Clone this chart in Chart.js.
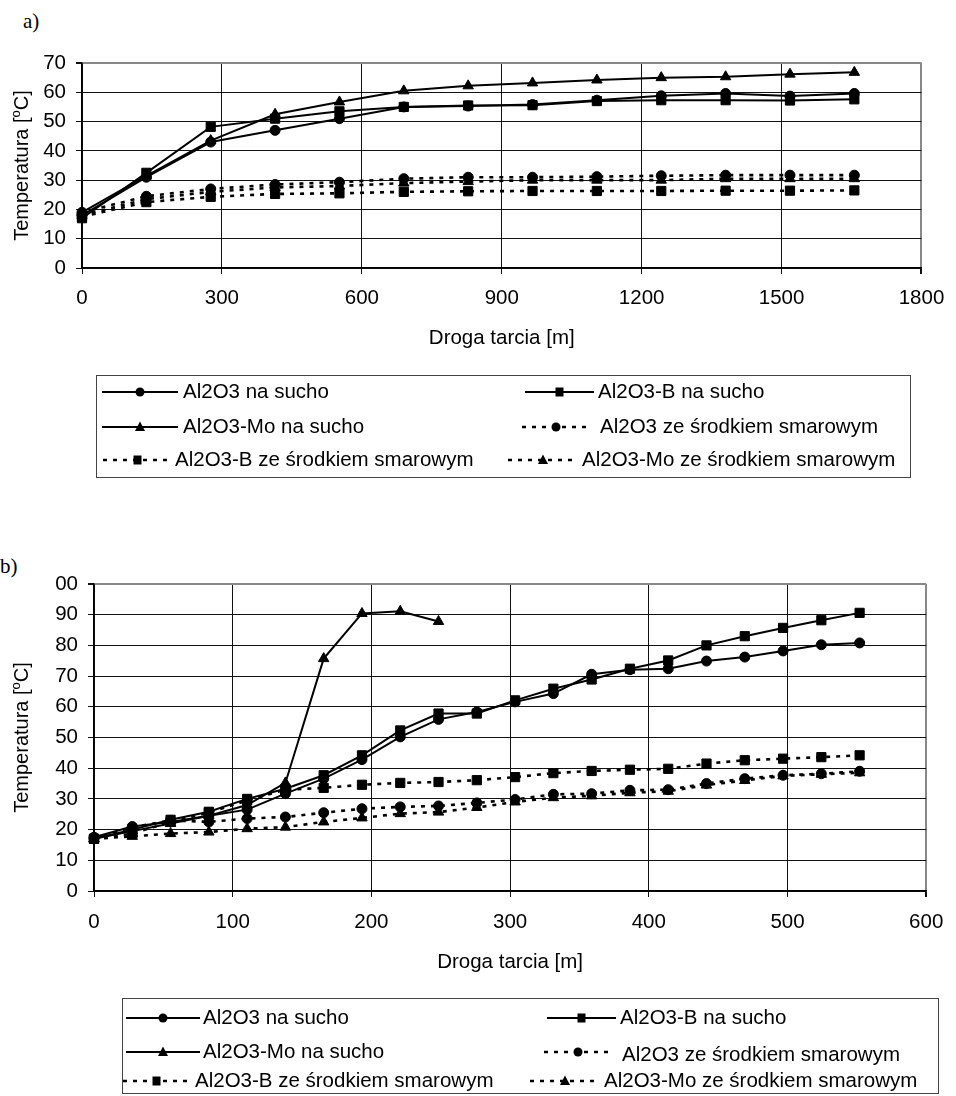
<!DOCTYPE html>
<html>
<head>
<meta charset="utf-8">
<script src="https://cdn.jsdelivr.net/npm/chart.js@4.4.1/dist/chart.umd.min.js"></script>
<style>
  body { margin: 0; background: #fff; width: 956px; height: 1096px; position: relative; overflow: hidden; }
  canvas { position: absolute; left: 0; }
  .lbl { position: absolute; font: 21px 'Liberation Serif', 'Times New Roman', serif; line-height: 21px; color: #000; }
</style>
</head>
<body>
<div class="lbl" style="left:23px; top:11px">a)</div>
<div class="lbl" style="left:0px; top:556px">b)</div>
<canvas id="chartA" width="956" height="490" style="top:0"></canvas>
<canvas id="chartB" width="956" height="606" style="top:490px"></canvas>
<script>
// --- data: chart a) ---
const distA = [0, 138, 276, 414, 552, 690, 828, 966, 1104, 1242, 1380, 1518, 1656];
const aAl2o3Dry = [18, 31, 43, 47, 51, 55, 55.3, 55.8, 57.3, 58.8, 59.6, 58.7, 59.6];
const aBDry     = [17, 32.5, 48.2, 51, 53.5, 55, 55.5, 55.6, 57, 57.3, 57.3, 57.2, 57.6];
const aMoDry    = [19, 31.5, 43.5, 52.5, 56.7, 60.5, 62.2, 63.2, 64.2, 65, 65.3, 66.2, 66.8];
const aAl2o3Lub = [19, 24.5, 27, 28.5, 29.3, 30.5, 31, 31, 31.2, 31.5, 31.7, 31.7, 31.7];
const aBLub     = [17.5, 22.5, 24.3, 25.3, 25.5, 26, 26.2, 26.3, 26.3, 26.3, 26.4, 26.4, 26.5];
const aMoLub    = [18, 23.5, 26, 27.5, 28, 29, 29.5, 30, 30, 30, 30.5, 30.5, 30.5];

// --- data: chart b) ---
const distB = [0, 27.6, 55.2, 82.8, 110.4, 138, 165.6, 193.2, 220.8, 248.4, 276, 303.6, 331.2, 358.8, 386.4, 414, 441.6, 469.2, 496.8, 524.4, 552];
const bAl2o3Dry = [17.5, 21, 22.5, 24.5, 26.5, 31.7, 36.6, 42.8, 50.2, 55.9, 58.3, 61.6, 64.3, 70.6, 72.1, 72.4, 74.9, 76.2, 78.2, 80.2, 80.8];
const bBDry     = [17, 20, 23.2, 25.8, 30, 33.3, 37.7, 44.2, 52.3, 57.8, 57.8, 62.1, 65.9, 68.9, 72.4, 75.1, 80, 83, 85.7, 88.2, 90.6];
const bMoDry    = [17, 19.5, 22, 24.5, 28, 35.2, 75.7, 90.4, 91.1, 87.8];
const bAl2o3Lub = [17, 20.8, 23, 22.5, 23.6, 24.1, 25.5, 26.8, 27.4, 27.7, 28.7, 29.8, 31.5, 31.7, 32.8, 33, 35, 36.6, 37.7, 38.2, 39];
const bBLub     = [17, 18.7, 22.5, 25.5, 29.5, 33, 33.6, 34.6, 35.2, 35.5, 36.1, 37.1, 38.4, 39.1, 39.5, 39.8, 41.5, 42.6, 43.1, 43.6, 44.2];
const bMoLub    = [17, 17.8, 18.7, 19.2, 20.3, 20.8, 22.5, 23.8, 25.2, 25.7, 27.2, 29, 30.4, 31, 32, 32.5, 34.5, 36, 37.5, 38, 38.5];

const seriesLabels = [
  'Al2O3 na sucho', 'Al2O3-B na sucho', 'Al2O3-Mo na sucho',
  'Al2O3 ze środkiem smarowym', 'Al2O3-B ze środkiem smarowym', 'Al2O3-Mo ze środkiem smarowym'
];
const xTicksA = [0, 300, 600, 900, 1200, 1500, 1800];
const yTicksA = [0, 10, 20, 30, 40, 50, 60, 70];
const xTicksB = [0, 100, 200, 300, 400, 500, 600];
const yTicksB = [0, 10, 20, 30, 40, 50, 60, 70, 80, 90, 100];

const FONT = "'Liberation Sans', Arial, sans-serif";
const FS = 20.5;
Chart.defaults.font.family = FONT;
Chart.defaults.color = '#000';

function pts(xs, ys) {
  return ys.map((y, i) => ({ x: xs[i], y }));
}

const styles = [
  { pointStyle: 'circle',   dash: false },
  { pointStyle: 'rect',     dash: false },
  { pointStyle: 'triangle', dash: false },
  { pointStyle: 'circle',   dash: true },
  { pointStyle: 'rect',     dash: true },
  { pointStyle: 'triangle', dash: true }
];
const radius = { circle: 5, rect: 6.5, triangle: 6 };

function makeDatasets(xs, series) {
  return series.map((ys, i) => ({
    label: seriesLabels[i],
    data: pts(xs, ys),
    borderColor: '#000',
    backgroundColor: '#000',
    borderWidth: styles[i].dash ? 2.6 : 2,
    borderDash: styles[i].dash ? [4, 6] : [],
    pointStyle: styles[i].pointStyle,
    pointRadius: radius[styles[i].pointStyle],
    pointBackgroundColor: '#000',
    pointBorderColor: '#000',
    pointBorderWidth: 1,
    tension: 0,
    clip: false
  }));
}

function drawMarker(ctx, style, x, y) {
  ctx.beginPath();
  if (style === 'circle') {
    ctx.arc(x, y, 4.5, 0, Math.PI * 2);
  } else if (style === 'rect') {
    ctx.rect(x - 4, y - 4.5, 8, 9);
  } else {
    ctx.moveTo(x, y - 5.5);
    ctx.lineTo(x + 5, y + 4);
    ctx.lineTo(x - 5, y + 4);
    ctx.closePath();
  }
  ctx.fill();
}

// rotated y title with superscript "o"
const yTitle = {
  id: 'yTitle',
  afterDraw(chart) {
    const { ctx, chartArea } = chart;
    const cy = (chartArea.top + chartArea.bottom) / 2;
    const big = '20px ' + FONT, small = '13px ' + FONT;
    const p1 = 'Temperatura [', p2 = 'o', p3 = 'C]';
    ctx.save();
    ctx.translate(22, cy);
    ctx.rotate(-Math.PI / 2);
    ctx.fillStyle = '#000';
    ctx.textBaseline = 'middle';
    ctx.font = big;
    const w1 = ctx.measureText(p1).width, w3 = ctx.measureText(p3).width;
    ctx.font = small;
    const w2 = ctx.measureText(p2).width;
    let x = -(w1 + w2 + w3) / 2;
    ctx.font = big; ctx.fillText(p1, x, 0); x += w1;
    ctx.font = small; ctx.fillText(p2, x, -6); x += w2;
    ctx.font = big; ctx.fillText(p3, x, 0);
    ctx.restore();
  }
};

// Excel-like legend box drawn under the plot
const boxLegend = {
  id: 'boxLegend',
  afterDraw(chart, args, opts) {
    const ctx = chart.ctx;
    const [bx, by, bw, bh] = opts.box;
    ctx.save();
    ctx.strokeStyle = '#444';
    ctx.lineWidth = 1;
    ctx.setLineDash([]);
    ctx.strokeRect(bx + 0.5, by + 0.5, bw, bh);
    ctx.font = FS + 'px ' + FONT;
    ctx.textBaseline = 'middle';
    opts.items.forEach((it, i) => {
      const ds = chart.data.datasets[i];
      const dashed = ds.borderDash.length > 0;
      ctx.strokeStyle = '#000';
      ctx.fillStyle = '#000';
      ctx.lineWidth = dashed ? 2.4 : 2;
      ctx.setLineDash(dashed ? [4, 6] : []);
      ctx.beginPath();
      ctx.moveTo(it.x1, it.y);
      ctx.lineTo(it.x2, it.y);
      ctx.stroke();
      ctx.setLineDash([]);
      drawMarker(ctx, ds.pointStyle, (it.x1 + it.x2) / 2, it.y);
      ctx.fillText(ds.label, it.tx, it.y + (it.dy || 0));
    });
    ctx.restore();
  }
};

function gridColor(maxVal) {
  return c => (c.tick && c.tick.value === maxVal) ? '#888' : '#111';
}
function gridWidth(maxVal) {
  return c => (c.tick && c.tick.value === maxVal) ? 2 : 1;
}

function makeChart(canvasId, xs, series, cfg) {
  const xMax = cfg.xTicks[cfg.xTicks.length - 1];
  const yMax = cfg.yTicks[cfg.yTicks.length - 1];
  return new Chart(document.getElementById(canvasId), {
    type: 'line',
    data: { datasets: makeDatasets(xs, series) },
    options: {
      responsive: false,
      animation: false,
      devicePixelRatio: 1,
      layout: { padding: cfg.padding },
      plugins: {
        legend: { display: false },
        tooltip: { enabled: false },
        boxLegend: cfg.legend
      },
      scales: {
        x: {
          type: 'linear',
          min: cfg.xTicks[0],
          max: xMax,
          afterBuildTicks: s => { s.ticks = cfg.xTicks.map(v => ({ value: v })); },
          afterFit: s => { s.height = 90; },
          ticks: {
            font: { size: FS }, color: '#000', padding: cfg.xPad, maxRotation: 0, autoSkip: false,
            callback: v => String(v)
          },
          grid: { color: gridColor(xMax), lineWidth: gridWidth(xMax), tickColor: '#111', tickLength: 6 },
          border: { color: '#000', width: 1.5 },
          title: {
            display: true, text: 'Droga tarcia [m]', font: { size: FS }, color: '#000',
            padding: { top: 0, bottom: cfg.titlePad }
          }
        },
        y: {
          min: cfg.yTicks[0],
          max: yMax,
          afterBuildTicks: s => { s.ticks = cfg.yTicks.map(v => ({ value: v })); },
          afterFit: s => { s.width = cfg.yWidth; },
          ticks: {
            font: { size: FS }, color: '#000', padding: 10,
            callback: v => (v === 100 ? '00' : String(v))
          },
          grid: { color: gridColor(yMax), lineWidth: gridWidth(yMax), tickColor: '#111', tickLength: 6 },
          border: { color: '#000', width: 1.5 }
        }
      }
    },
    plugins: [yTitle, boxLegend]
  });
}

makeChart('chartA', distA, [aAl2o3Dry, aBDry, aMoDry, aAl2o3Lub, aBLub, aMoLub], {
  xTicks: xTicksA, yTicks: yTicksA, yWidth: 82, xPad: 11.7, titlePad: 7.7,
  padding: { top: 63, right: 32, left: 0, bottom: 132 },
  legend: {
    box: [96, 375, 814, 102],
    items: [
      { y: 392, x1: 102, x2: 178, tx: 183 },
      { y: 392, x1: 525, x2: 594, tx: 598 },
      { y: 427, x1: 102, x2: 178, tx: 183 },
      { y: 427, x1: 522, x2: 590, tx: 600 },
      { y: 460, x1: 103, x2: 172, tx: 175 },
      { y: 460, x1: 508, x2: 578, tx: 582 }
    ]
  }
});

makeChart('chartB', distB, [bAl2o3Dry, bBDry, bMoDry, bAl2o3Lub, bBLub, bMoLub], {
  xTicks: xTicksB, yTicks: yTicksB, yWidth: 94, xPad: 12.7, titlePad: 6.7,
  padding: { top: 94, right: 19, left: 0, bottom: 115 },
  legend: {
    box: [122, 508, 816, 95],
    items: [
      { y: 528, x1: 126, x2: 200, tx: 203 },
      { y: 528, x1: 547, x2: 616, tx: 620 },
      { y: 562, x1: 126, x2: 200, tx: 203 },
      { y: 562, x1: 544, x2: 612, tx: 622, dy: 3 },
      { y: 591, x1: 123, x2: 190, tx: 195 },
      { y: 591, x1: 530, x2: 600, tx: 604 }
    ]
  }
});
</script>
</body>
</html>
